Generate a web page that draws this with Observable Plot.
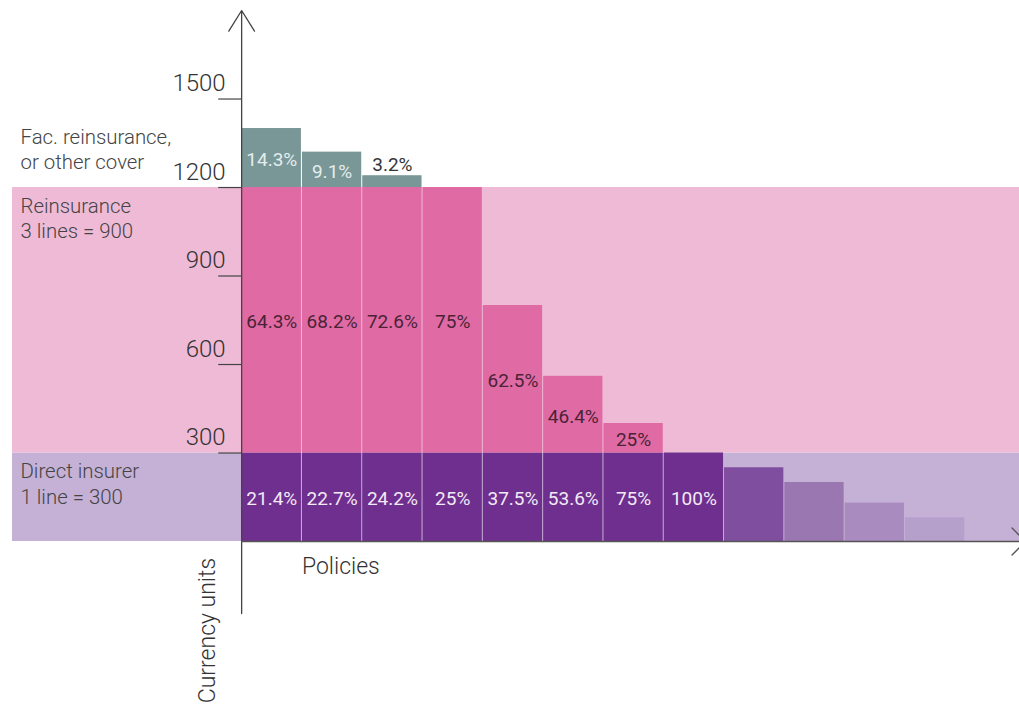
<!DOCTYPE html>
<html>
<head>
<meta charset="utf-8">
<script src="https://cdn.jsdelivr.net/npm/d3@7"></script>
<script src="https://cdn.jsdelivr.net/npm/@observablehq/plot@0.6"></script>
<style>
  body { margin: 0; background: #fff; }
  #chart svg { display: block; }
</style>
</head>
<body>
<div id="chart"></div>
<script>
// Layers of cover per policy, in currency units
const policies = [1, 2, 3, 4, 5, 6, 7, 8, 9, 10, 11, 12];
const directShare = [300, 300, 300, 300, 300, 300, 300, 300, 250, 200, 130, 80];
const reinsuranceShare = [900, 900, 900, 900, 500, 260, 100, 0, 0, 0, 0, 0];
const facultativeShare = [200, 120, 40, 0, 0, 0, 0, 0, 0, 0, 0, 0];
const labelledPolicy = [true, true, true, true, true, true, true, true, false, false, false, false];

// Capacity bands behind the bars
const bandNames = ["Direct insurer\n1 line = 300", "Reinsurance\n3 lines = 900"];
const bandFrom = [0, 300];
const bandTo = [300, 1200];
const facName = "Fac. reinsurance,\nor other cover";

const yTicks = [300, 600, 900, 1200, 1500];
const xTitle = "Policies";
const yTitle = "Currency units";

// Colours
const colors = {
  direct: "#6f2f8e",
  reinsurance: "#e06aa4",
  fac: "#7a9798"
};
const fadedDirect = ["#7f4e9e", "#9b77b2", "#a98bbf", "#b59fcb"];
const bandColors = ["#c5b0d6", "#efbad6"];
const labelColors = {direct: "#f3eaf7", reinsurance: "#4a2336", fac: "#e3eded"};

const pct = (p) => `${+(p * 100).toFixed(1)}%`;

// Stack each policy's layers
const segments = [];
policies.forEach((p, i) => {
  const d = directShare[i], r = reinsuranceShare[i], f = facultativeShare[i];
  const total = d + r + f;
  const fill = i < 8 ? colors.direct : fadedDirect[i - 8];
  segments.push({i, layer: "direct", y1: 0, y2: d, share: d / total, fill});
  if (r > 0) segments.push({i, layer: "reinsurance", y1: d, y2: d + r, share: r / total, fill: colors.reinsurance});
  if (f > 0) segments.push({i, layer: "fac", y1: d + r, y2: total, share: f / total, fill: colors.fac});
});

const labels = segments
  .filter((s) => labelledPolicy[s.i])
  .map((s) => {
    const thin = s.y2 - s.y1 < 60;
    return {
      x: s.i + 0.5,
      y: thin ? s.y2 : (s.y1 + s.y2) / 2,
      text: pct(s.share),
      thin,
      color: thin ? "#333" : labelColors[s.layer]
    };
  });

const bands = bandNames.map((name, k) => ({name, from: bandFrom[k], to: bandTo[k], fill: bandColors[k]}));

const font = "Roboto, 'Liberation Sans', Arial, sans-serif";

const chart = Plot.plot({
  width: 1019,
  height: 704,
  marginLeft: 12,
  marginRight: 0,
  marginTop: 0,
  marginBottom: 163,
  x: {domain: [-3.8, 12.9], axis: null},
  y: {domain: [0, 1834], axis: null},
  style: {fontFamily: font, background: "#fff"},
  marks: [
    // capacity bands
    Plot.rect(bands, {y1: "from", y2: "to", fill: "fill"}),
    // policy bars
    Plot.rect(segments, {
      x1: "i", x2: (d) => d.i + 1, y1: "y1", y2: "y2",
      fill: "fill", insetLeft: 0.5, insetRight: 0.5
    }),
    // percentage labels
    Plot.text(labels.filter((d) => !d.thin), {
      x: "x", y: "y", text: "text", fill: "color",
      fontSize: 19, lineAnchor: "middle", dy: 2
    }),
    Plot.text(labels.filter((d) => d.thin), {
      x: "x", y: "y", text: "text", fill: "color",
      fontSize: 19, lineAnchor: "bottom", dy: -5
    }),
    // band names
    Plot.text(bands, {
      y: "to", text: "name", frameAnchor: "left", textAnchor: "start",
      lineAnchor: "top", lineHeight: 1.25, dx: 8, dy: 7,
      fontSize: 20.4, fontWeight: 300, fill: "#444"
    }),
    Plot.text([facName], {
      y: bandTo[1], text: (d) => d, frameAnchor: "left", textAnchor: "start",
      lineAnchor: "bottom", lineHeight: 1.2, dx: 8, dy: -19,
      fontSize: 20.4, fontWeight: 300, fill: "#444"
    }),
    // y axis ticks and labels
    Plot.ruleY(yTicks, {x1: -0.38, x2: 0, stroke: "#444", strokeWidth: 1.2}),
    Plot.text(yTicks, {
      x: 0, y: (d) => d, text: (d) => String(d), textAnchor: "end",
      lineAnchor: "bottom", dx: -16, dy: -8, fontSize: 24, fontWeight: 300, fill: "#333"
    }),
    // axes with arrow heads
    Plot.arrow([{x1: 0, y1: -244, x2: 0, y2: 1800}], {
      x1: "x1", y1: "y1", x2: "x2", y2: "y2",
      stroke: "#444", strokeWidth: 1.3, headLength: 28, headAngle: 64
    }),
    Plot.arrow([{x1: 0, y1: 0, x2: 13.0, y2: 0}], {
      x1: "x1", y1: "y1", x2: "x2", y2: "y2",
      stroke: "#555", strokeWidth: 1.3, headLength: 22, headAngle: 90
    }),
    // axis titles
    Plot.text([xTitle], {
      x: 1, y: 0, text: (d) => d, textAnchor: "start", lineAnchor: "middle",
      dy: 25, fontSize: 23, fontWeight: 300, fill: "#333"
    }),
    Plot.text([yTitle], {
      x: -0.56, y: -302, text: (d) => d, rotate: -90,
      textAnchor: "middle", lineAnchor: "middle", fontSize: 23, fontWeight: 300, fill: "#333"
    })
  ]
});

document.getElementById("chart").append(chart);
</script>
</body>
</html>
